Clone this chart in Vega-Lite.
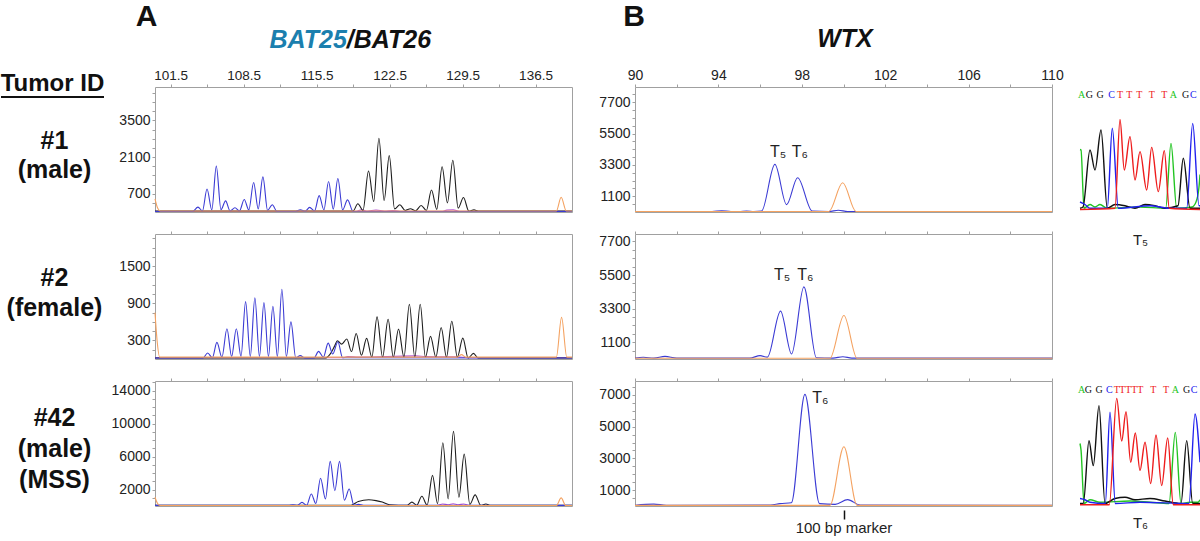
{
"$schema":"https://vega.github.io/schema/vega-lite/v6.json",
"padding":0,
"background":"white",
"config":{
 "font":"Liberation Sans",
 "view":{"stroke":"#a0a0a0","strokeWidth":1},
 "axis":{"grid":false,"domain":false,"tickColor":"#a0a0a0","tickSize":3,"labelFont":"Liberation Sans","labelFontSize":14,"labelColor":"#222","labelPadding":2,"labelFlush":false,"labelOverlap":false},
 "line":{"interpolate":"monotone","strokeWidth":1.1}
},
"datasets":{
 "A1":[
  {"bp":100,"v":30,"d":"purple"},{"bp":119.3,"v":30,"d":"purple"},{"bp":119.8,"v":80,"d":"purple"},{"bp":120.4,"v":40,"d":"purple"},{"bp":121.2,"v":70,"d":"purple"},{"bp":122,"v":40,"d":"purple"},{"bp":122.8,"v":60,"d":"purple"},{"bp":123.5,"v":30,"d":"purple"},{"bp":127.5,"v":30,"d":"purple"},{"bp":128,"v":70,"d":"purple"},{"bp":128.6,"v":80,"d":"purple"},{"bp":129.2,"v":30,"d":"purple"},{"bp":140,"v":30,"d":"purple"},
  {"bp":100,"v":40,"d":"black"},{"bp":119,"v":40,"d":"black"},{"bp":119.46,"v":314,"d":"black"},{"bp":119.95,"v":60,"d":"black"},{"bp":120.48,"v":1568,"d":"black"},{"bp":120.98,"v":400,"d":"black"},{"bp":121.48,"v":2822,"d":"black"},{"bp":121.98,"v":440,"d":"black"},{"bp":122.47,"v":2157,"d":"black"},{"bp":122.98,"v":120,"d":"black"},{"bp":123.49,"v":276,"d":"black"},{"bp":124,"v":60,"d":"black"},{"bp":124.5,"v":125,"d":"black"},{"bp":125,"v":50,"d":"black"},{"bp":125.53,"v":251,"d":"black"},{"bp":126.03,"v":60,"d":"black"},{"bp":126.52,"v":840,"d":"black"},{"bp":127.03,"v":100,"d":"black"},{"bp":127.54,"v":1731,"d":"black"},{"bp":128.05,"v":350,"d":"black"},{"bp":128.57,"v":1981,"d":"black"},{"bp":129.08,"v":150,"d":"black"},{"bp":129.59,"v":552,"d":"black"},{"bp":130.1,"v":40,"d":"black"},{"bp":130.6,"v":80,"d":"black"},{"bp":131,"v":40,"d":"black"},{"bp":140,"v":40,"d":"black"},
  {"bp":100,"v":20,"d":"blue"},{"bp":103.6,"v":20,"d":"blue"},{"bp":104.12,"v":188,"d":"blue"},{"bp":104.55,"v":40,"d":"blue"},{"bp":104.99,"v":878,"d":"blue"},{"bp":105.45,"v":80,"d":"blue"},{"bp":105.88,"v":1756,"d":"blue"},{"bp":106.33,"v":90,"d":"blue"},{"bp":106.77,"v":426,"d":"blue"},{"bp":107.2,"v":40,"d":"blue"},{"bp":107.67,"v":163,"d":"blue"},{"bp":108.1,"v":40,"d":"blue"},{"bp":108.56,"v":476,"d":"blue"},{"bp":109,"v":80,"d":"blue"},{"bp":109.46,"v":1129,"d":"blue"},{"bp":109.9,"v":120,"d":"blue"},{"bp":110.35,"v":1342,"d":"blue"},{"bp":110.8,"v":60,"d":"blue"},{"bp":111.25,"v":276,"d":"blue"},{"bp":111.7,"v":20,"d":"blue"},{"bp":113.5,"v":20,"d":"blue"},{"bp":113.94,"v":88,"d":"blue"},{"bp":114.4,"v":20,"d":"blue"},{"bp":114.83,"v":176,"d":"blue"},{"bp":115.3,"v":40,"d":"blue"},{"bp":115.75,"v":627,"d":"blue"},{"bp":116.2,"v":80,"d":"blue"},{"bp":116.65,"v":1166,"d":"blue"},{"bp":117.1,"v":110,"d":"blue"},{"bp":117.54,"v":1279,"d":"blue"},{"bp":118,"v":80,"d":"blue"},{"bp":118.47,"v":464,"d":"blue"},{"bp":119,"v":20,"d":"blue"},{"bp":140,"v":20,"d":"blue"},
  {"bp":100,"v":500,"d":"orange"},{"bp":100.25,"v":150,"d":"orange"},{"bp":100.5,"v":40,"d":"orange"},{"bp":138.5,"v":40,"d":"orange"},{"bp":138.96,"v":564,"d":"orange"},{"bp":139.45,"v":40,"d":"orange"},{"bp":140,"v":40,"d":"orange"}
 ],
 "A2":[
  {"bp":100,"v":20,"d":"purple"},{"bp":118,"v":20,"d":"purple"},{"bp":118.5,"v":40,"d":"purple"},{"bp":119.5,"v":30,"d":"purple"},{"bp":125,"v":50,"d":"purple"},{"bp":126,"v":40,"d":"purple"},{"bp":129,"v":35,"d":"purple"},{"bp":130,"v":20,"d":"purple"},{"bp":140,"v":20,"d":"purple"},
  {"bp":100,"v":15,"d":"black"},{"bp":116.3,"v":15,"d":"black"},{"bp":116.8,"v":80,"d":"black"},{"bp":117.2,"v":200,"d":"black"},{"bp":117.5,"v":295,"d":"black"},{"bp":117.9,"v":240,"d":"black"},{"bp":118.4,"v":322,"d":"black"},{"bp":118.85,"v":120,"d":"black"},{"bp":119.3,"v":413,"d":"black"},{"bp":119.8,"v":60,"d":"black"},{"bp":120.3,"v":333,"d":"black"},{"bp":120.8,"v":30,"d":"black"},{"bp":121.3,"v":681,"d":"black"},{"bp":121.83,"v":30,"d":"black"},{"bp":122.36,"v":643,"d":"black"},{"bp":122.86,"v":30,"d":"black"},{"bp":123.36,"v":483,"d":"black"},{"bp":123.88,"v":30,"d":"black"},{"bp":124.4,"v":885,"d":"black"},{"bp":124.92,"v":30,"d":"black"},{"bp":125.44,"v":885,"d":"black"},{"bp":125.94,"v":30,"d":"black"},{"bp":126.43,"v":365,"d":"black"},{"bp":126.94,"v":30,"d":"black"},{"bp":127.45,"v":509,"d":"black"},{"bp":127.96,"v":30,"d":"black"},{"bp":128.47,"v":611,"d":"black"},{"bp":129,"v":30,"d":"black"},{"bp":129.53,"v":338,"d":"black"},{"bp":130.04,"v":15,"d":"black"},{"bp":130.55,"v":91,"d":"black"},{"bp":131,"v":15,"d":"black"},{"bp":140,"v":15,"d":"black"},
  {"bp":100,"v":15,"d":"blue"},{"bp":104.6,"v":15,"d":"blue"},{"bp":105.05,"v":96,"d":"blue"},{"bp":105.5,"v":20,"d":"blue"},{"bp":105.94,"v":268,"d":"blue"},{"bp":106.42,"v":30,"d":"blue"},{"bp":106.9,"v":488,"d":"blue"},{"bp":107.35,"v":40,"d":"blue"},{"bp":107.8,"v":488,"d":"blue"},{"bp":108.25,"v":40,"d":"blue"},{"bp":108.69,"v":927,"d":"blue"},{"bp":109.14,"v":40,"d":"blue"},{"bp":109.58,"v":991,"d":"blue"},{"bp":110.02,"v":40,"d":"blue"},{"bp":110.45,"v":911,"d":"blue"},{"bp":110.88,"v":40,"d":"blue"},{"bp":111.31,"v":852,"d":"blue"},{"bp":111.74,"v":40,"d":"blue"},{"bp":112.17,"v":1126,"d":"blue"},{"bp":112.6,"v":40,"d":"blue"},{"bp":113.04,"v":600,"d":"blue"},{"bp":113.5,"v":20,"d":"blue"},{"bp":113.93,"v":54,"d":"blue"},{"bp":114.4,"v":15,"d":"blue"},{"bp":115.25,"v":15,"d":"blue"},{"bp":115.69,"v":123,"d":"blue"},{"bp":116.15,"v":30,"d":"blue"},{"bp":116.61,"v":257,"d":"blue"},{"bp":117.05,"v":80,"d":"blue"},{"bp":117.54,"v":278,"d":"blue"},{"bp":118,"v":20,"d":"blue"},{"bp":140,"v":15,"d":"blue"},
  {"bp":100,"v":750,"d":"orange"},{"bp":100.2,"v":300,"d":"orange"},{"bp":100.45,"v":30,"d":"orange"},{"bp":129,"v":30,"d":"orange"},{"bp":129.4,"v":70,"d":"orange"},{"bp":129.8,"v":30,"d":"orange"},{"bp":138.5,"v":30,"d":"orange"},{"bp":139,"v":672,"d":"orange"},{"bp":139.5,"v":30,"d":"orange"},{"bp":140,"v":30,"d":"orange"}
 ],
 "A3":[
  {"bp":100,"v":60,"d":"purple"},{"bp":127,"v":60,"d":"purple"},{"bp":127.6,"v":250,"d":"purple"},{"bp":128.1,"v":150,"d":"purple"},{"bp":128.6,"v":277,"d":"purple"},{"bp":129.1,"v":150,"d":"purple"},{"bp":129.6,"v":250,"d":"purple"},{"bp":130.2,"v":60,"d":"purple"},{"bp":140,"v":60,"d":"purple"},
  {"bp":100,"v":80,"d":"black"},{"bp":118.8,"v":80,"d":"black"},{"bp":119.5,"v":554,"d":"black"},{"bp":120.5,"v":752,"d":"black"},{"bp":121.2,"v":650,"d":"black"},{"bp":121.8,"v":475,"d":"black"},{"bp":122.5,"v":150,"d":"black"},{"bp":124.2,"v":80,"d":"black"},{"bp":124.64,"v":475,"d":"black"},{"bp":125.1,"v":80,"d":"black"},{"bp":125.6,"v":1188,"d":"black"},{"bp":126.1,"v":100,"d":"black"},{"bp":126.62,"v":3722,"d":"black"},{"bp":127.1,"v":280,"d":"black"},{"bp":127.61,"v":7682,"d":"black"},{"bp":128.12,"v":871,"d":"black"},{"bp":128.63,"v":9068,"d":"black"},{"bp":129.15,"v":1069,"d":"black"},{"bp":129.66,"v":6296,"d":"black"},{"bp":130.2,"v":200,"d":"black"},{"bp":130.71,"v":1346,"d":"black"},{"bp":131.25,"v":80,"d":"black"},{"bp":131.74,"v":238,"d":"black"},{"bp":132.2,"v":80,"d":"black"},{"bp":140,"v":80,"d":"black"},
  {"bp":100,"v":80,"d":"blue"},{"bp":112.8,"v":80,"d":"blue"},{"bp":113.23,"v":158,"d":"blue"},{"bp":113.65,"v":80,"d":"blue"},{"bp":114.1,"v":435,"d":"blue"},{"bp":114.55,"v":90,"d":"blue"},{"bp":114.99,"v":1465,"d":"blue"},{"bp":115.43,"v":300,"d":"blue"},{"bp":115.88,"v":3366,"d":"blue"},{"bp":116.35,"v":870,"d":"blue"},{"bp":116.81,"v":5425,"d":"blue"},{"bp":117.25,"v":1861,"d":"blue"},{"bp":117.7,"v":5425,"d":"blue"},{"bp":118.17,"v":700,"d":"blue"},{"bp":118.63,"v":2059,"d":"blue"},{"bp":119.08,"v":100,"d":"blue"},{"bp":119.53,"v":198,"d":"blue"},{"bp":120,"v":80,"d":"blue"},{"bp":140,"v":80,"d":"blue"},
  {"bp":100,"v":1069,"d":"orange"},{"bp":100.25,"v":300,"d":"orange"},{"bp":100.5,"v":60,"d":"orange"},{"bp":138.5,"v":60,"d":"orange"},{"bp":138.96,"v":990,"d":"orange"},{"bp":139.4,"v":60,"d":"orange"},{"bp":140,"v":60,"d":"orange"}
 ],
 "B1":[
  {"bp":90,"v":40,"d":"blue"},{"bp":93.7,"v":40,"d":"blue"},{"bp":94.16,"v":90,"d":"blue"},{"bp":94.6,"v":40,"d":"blue"},{"bp":95,"v":40,"d":"blue"},{"bp":95.35,"v":70,"d":"blue"},{"bp":95.7,"v":40,"d":"blue"},{"bp":96.07,"v":60,"d":"blue"},{"bp":96.71,"v":3344,"d":"blue"},{"bp":97.27,"v":516,"d":"blue"},{"bp":97.8,"v":2404,"d":"blue"},{"bp":98.5,"v":60,"d":"blue"},{"bp":99.3,"v":40,"d":"blue"},{"bp":99.75,"v":120,"d":"blue"},{"bp":100.2,"v":40,"d":"blue"},{"bp":110,"v":40,"d":"blue"},
  {"bp":90,"v":40,"d":"orange"},{"bp":99.3,"v":40,"d":"orange"},{"bp":99.96,"v":2050,"d":"orange"},{"bp":100.6,"v":40,"d":"orange"},{"bp":110,"v":40,"d":"orange"}
 ],
 "B2":[
  {"bp":90,"v":60,"d":"blue"},{"bp":90.4,"v":110,"d":"blue"},{"bp":90.9,"v":60,"d":"blue"},{"bp":91.44,"v":170,"d":"blue"},{"bp":92,"v":60,"d":"blue"},{"bp":95.5,"v":60,"d":"blue"},{"bp":96,"v":220,"d":"blue"},{"bp":96.35,"v":120,"d":"blue"},{"bp":96.98,"v":3136,"d":"blue"},{"bp":97.51,"v":330,"d":"blue"},{"bp":98.1,"v":4727,"d":"blue"},{"bp":98.7,"v":80,"d":"blue"},{"bp":99.5,"v":60,"d":"blue"},{"bp":99.97,"v":150,"d":"blue"},{"bp":100.4,"v":60,"d":"blue"},{"bp":110,"v":60,"d":"blue"},
  {"bp":90,"v":50,"d":"orange"},{"bp":99.35,"v":50,"d":"orange"},{"bp":100.02,"v":2851,"d":"orange"},{"bp":100.65,"v":50,"d":"orange"},{"bp":110,"v":50,"d":"orange"}
 ],
 "B3":[
  {"bp":90,"v":50,"d":"blue"},{"bp":90.9,"v":120,"d":"blue"},{"bp":91.5,"v":50,"d":"blue"},{"bp":96.5,"v":60,"d":"blue"},{"bp":96.95,"v":150,"d":"blue"},{"bp":97.5,"v":200,"d":"blue"},{"bp":98.15,"v":7035,"d":"blue"},{"bp":98.85,"v":150,"d":"blue"},{"bp":99.6,"v":100,"d":"blue"},{"bp":100.2,"v":400,"d":"blue"},{"bp":100.8,"v":60,"d":"blue"},{"bp":110,"v":50,"d":"blue"},
  {"bp":90,"v":40,"d":"orange"},{"bp":99.35,"v":40,"d":"orange"},{"bp":100.02,"v":3735,"d":"orange"},{"bp":100.65,"v":40,"d":"orange"},{"bp":110,"v":40,"d":"orange"}
 ],
 "B1T":[{"bp":96.86,"v":4190,"lab":"T₅"},{"bp":97.91,"v":4190,"lab":"T₆"}],
 "B2T":[{"bp":97.05,"v":5500,"lab":"T₅"},{"bp":98.17,"v":5500,"lab":"T₆"}],
 "B3T":[{"bp":98.89,"v":6780,"lab":"T₆"}],
 "C1":[
  {"u":0,"s":50,"b":"A"},{"u":1,"s":49.6,"b":"A"},{"u":4,"s":3,"b":"A"},{"u":10,"s":6,"b":"A"},{"u":15,"s":4,"b":"A"},{"u":20,"s":6,"b":"A"},{"u":27,"s":3,"b":"A"},{"u":60,"s":4,"b":"A"},{"u":85.7,"s":3,"b":"A"},{"u":91,"s":54.9,"b":"A"},{"u":96.7,"s":3,"b":"A"},{"u":112,"s":4,"b":"A"},{"u":116,"s":8,"b":"A"},{"u":119,"s":20,"b":"A"},{"u":120,"s":30,"b":"A"},
  {"u":0,"s":3,"b":"G"},{"u":3,"s":4,"b":"G"},{"u":10,"s":49.6,"b":"G"},{"u":15,"s":33.6,"b":"G"},{"u":21,"s":65.6,"b":"G"},{"u":27.3,"s":3,"b":"G"},{"u":35,"s":6,"b":"G"},{"u":45,"s":5,"b":"G"},{"u":55,"s":3,"b":"G"},{"u":65,"s":6,"b":"G"},{"u":75,"s":5,"b":"G"},{"u":85,"s":3,"b":"G"},{"u":98,"s":5,"b":"G"},{"u":103.3,"s":43,"b":"G"},{"u":110,"s":3,"b":"G"},{"u":120,"s":3,"b":"G"},
  {"u":0,"s":8,"b":"C"},{"u":5,"s":6,"b":"C"},{"u":10,"s":3,"b":"C"},{"u":27.3,"s":3,"b":"C"},{"u":32.3,"s":67,"b":"C"},{"u":38.3,"s":3,"b":"C"},{"u":70,"s":5,"b":"C"},{"u":90,"s":3,"b":"C"},{"u":106.7,"s":3,"b":"C"},{"u":112.7,"s":70.9,"b":"C"},{"u":119,"s":5,"b":"C"},{"u":120,"s":5,"b":"C"},
  {"u":0,"s":2,"b":"T"},{"u":35,"s":3,"b":"T"},{"u":40,"s":74.1,"b":"T"},{"u":44.3,"s":33.6,"b":"T"},{"u":50,"s":60.3,"b":"T"},{"u":55,"s":25.6,"b":"T"},{"u":60,"s":48.3,"b":"T"},{"u":66.7,"s":17.6,"b":"T"},{"u":71.7,"s":51.7,"b":"T"},{"u":78.3,"s":16.3,"b":"T"},{"u":84.3,"s":49.1,"b":"T"},{"u":89.3,"s":3,"b":"T"},{"u":120,"s":2,"b":"T"}
 ],
 "C1L":[{"u":1.7,"b":"A"},{"u":9.3,"b":"G"},{"u":20,"b":"G"},{"u":31.7,"b":"C"},{"u":40,"b":"T"},{"u":49.3,"b":"T"},{"u":59.3,"b":"T"},{"u":71.7,"b":"T"},{"u":84.3,"b":"T"},{"u":93.3,"b":"A"},{"u":105.7,"b":"G"},{"u":113.3,"b":"C"}],
 "C3":[
  {"u":0,"s":50,"b":"A"},{"u":1,"s":45,"b":"A"},{"u":4,"s":2,"b":"A"},{"u":10,"s":5,"b":"A"},{"u":20,"s":3,"b":"A"},{"u":50,"s":4,"b":"A"},{"u":70,"s":3,"b":"A"},{"u":89,"s":2,"b":"A"},{"u":95.3,"s":58.9,"b":"A"},{"u":101,"s":2,"b":"A"},{"u":110,"s":3,"b":"A"},{"u":118,"s":3,"b":"A"},{"u":120,"s":5,"b":"A"},
  {"u":0,"s":2,"b":"G"},{"u":3.3,"s":2,"b":"G"},{"u":9,"s":52.3,"b":"G"},{"u":13.3,"s":32.3,"b":"G"},{"u":19,"s":80.3,"b":"G"},{"u":25,"s":2,"b":"G"},{"u":35,"s":6,"b":"G"},{"u":45,"s":7,"b":"G"},{"u":55,"s":5,"b":"G"},{"u":70,"s":6,"b":"G"},{"u":85,"s":4,"b":"G"},{"u":101,"s":2,"b":"G"},{"u":106.7,"s":52.3,"b":"G"},{"u":112.7,"s":2,"b":"G"},{"u":120,"s":2,"b":"G"},
  {"u":0,"s":6,"b":"C"},{"u":5,"s":5,"b":"C"},{"u":10,"s":3,"b":"C"},{"u":25.3,"s":2,"b":"C"},{"u":30,"s":75,"b":"C"},{"u":35.3,"s":2,"b":"C"},{"u":60,"s":3,"b":"C"},{"u":109,"s":2,"b":"C"},{"u":115,"s":73.6,"b":"C"},{"u":120,"s":35,"b":"C"},
  {"u":0,"s":1,"b":"T"},{"u":29.3,"s":1,"b":"T"},{"u":36.7,"s":86.1,"b":"T"},{"u":41.7,"s":52,"b":"T"},{"u":46,"s":75.5,"b":"T"},{"u":50.7,"s":35,"b":"T"},{"u":55.3,"s":58.4,"b":"T"},{"u":60,"s":28.4,"b":"T"},{"u":65,"s":51,"b":"T"},{"u":70.7,"s":18,"b":"T"},{"u":76,"s":56.8,"b":"T"},{"u":81.7,"s":16.3,"b":"T"},{"u":87.7,"s":54.4,"b":"T"},{"u":93.3,"s":1,"b":"T"},{"u":120,"s":1,"b":"T"}
 ],
 "C3L":[{"u":1.7,"b":"A"},{"u":8.3,"b":"G"},{"u":19,"b":"G"},{"u":29.3,"b":"C"},{"u":36.7,"b":"T"},{"u":42.3,"b":"T"},{"u":48.3,"b":"T"},{"u":54.3,"b":"T"},{"u":60.3,"b":"T"},{"u":73.3,"b":"T"},{"u":86,"b":"T"},{"u":95.3,"b":"A"},{"u":106.7,"b":"G"},{"u":114,"b":"C"}]
},
"columns":5,
"align":"each",
"bounds":"flush",
"spacing":{"row":22,"column":28},
"concat":[
 {"width":127,"height":65,"view":{"stroke":null},"data":{"values":[{}]},"layer":[
  {"mark":{"type":"text","fontSize":24,"fontWeight":"bold","color":"#111","dx":-11,"dy":51},"encoding":{"text":{"value":"Tumor ID"}}},
  {"mark":{"type":"rule","color":"#111","strokeWidth":2},"encoding":{"x":{"datum":1,"type":"quantitative","scale":{"domain":[0,127],"nice":false,"zero":false},"axis":null},"x2":{"datum":104},"y":{"datum":97,"type":"quantitative","scale":{"domain":[65,0],"nice":false,"zero":false},"axis":null}}}
 ]},
 {"width":417,"height":65,"view":{"stroke":null},"data":{"values":[{}]},"layer":[
  {"mark":{"type":"text","fontSize":30,"fontWeight":"bold","color":"#111","dy":-16},"encoding":{"x":{"datum":99.2,"type":"quantitative","scale":{"domain":[100,140],"nice":false,"zero":false},"axis":null},"text":{"value":"A"}}},
  {"mark":{"type":"text","fontSize":25,"fontWeight":"bold","fontStyle":"italic","color":"#1b7fae","align":"right","dy":7.5},"encoding":{"x":{"datum":118.4,"type":"quantitative","axis":null},"text":{"value":"BAT25"}}},
  {"mark":{"type":"text","fontSize":25,"fontWeight":"bold","fontStyle":"italic","color":"#111","align":"left","dy":7.5},"encoding":{"x":{"datum":118.4,"type":"quantitative","axis":null},"text":{"value":"/BAT26"}}}
 ]},
 {"width":7,"height":65,"view":{"stroke":null},"data":{"values":[]},"mark":"point"},
 {"width":417,"height":65,"view":{"stroke":null},"data":{"values":[{}]},"layer":[
  {"mark":{"type":"text","fontSize":30,"fontWeight":"bold","color":"#111","dy":-16},"encoding":{"x":{"datum":89.95,"type":"quantitative","scale":{"domain":[90,110],"nice":false,"zero":false},"axis":null},"text":{"value":"B"}}},
  {"mark":{"type":"text","fontSize":25,"fontWeight":"bold","fontStyle":"italic","color":"#111","dy":6.5},"encoding":{"x":{"datum":100.07,"type":"quantitative","axis":null},"text":{"value":"WTX"}}}
 ]},
 {"width":120,"height":65,"view":{"stroke":null},"data":{"values":[]},"mark":"point"},

 {"width":127,"height":125,"view":{"stroke":null},"data":{"values":[{"t":"#1\n(male)"}]},"mark":{"type":"text","lineBreak":"\n","fontSize":25,"fontWeight":"bold","lineHeight":29,"color":"#111","dx":-9,"dy":-9},"encoding":{"text":{"field":"t","type":"nominal"}}},
 {"width":417,"height":125,"data":{"name":"A1"},"mark":{"type":"line"},"encoding":{
  "x":{"field":"bp","type":"quantitative","title":null,"scale":{"domain":[100,140],"nice":false,"zero":false},"axis":{"orient":"top","format":".1f","labelFontSize":13.5,"values":[101.5,105,108.5,112,115.5,119,122.5,126,129.5,133,136.5],"labelExpr":"(datum.value-101.5)%7==0 ? datum.label : ''"}},
  "y":{"field":"v","type":"quantitative","title":null,"scale":{"domain":[0,4780],"nice":false},"axis":{"format":"d","values":[350,700,1050,1400,1750,2100,2450,2800,3150,3500,3850,4200,4550],"labelExpr":"datum.value%1400==700 ? datum.label : ''"}},
  "color":{"field":"d","type":"nominal","legend":null,"scale":{"domain":["purple","black","blue","orange","A","C","G","T"],"range":["#b455d0","#1e1e1e","#3b3bd4","#f4a261","#22c422","#2020ee","#111111","#ee1c1c"]}}}},
 {"width":7,"height":125,"view":{"stroke":null},"data":{"values":[]},"mark":"point"},
 {"width":417,"height":125,"resolve":{"axis":{"x":"independent","y":"independent"}},"layer":[
  {"data":{"name":"B1"},"mark":{"type":"line"},"encoding":{
   "x":{"field":"bp","type":"quantitative","title":null,"scale":{"domain":[90,110],"nice":false,"zero":false},"axis":{"orient":"top","format":"d","values":[90,92,94,96,98,100,102,104,106,108,110],"labelExpr":"(datum.value-90)%4==0 ? datum.label : ''"}},
   "y":{"field":"v","type":"quantitative","title":null,"scale":{"domain":[0,8770],"nice":false},"axis":{"format":"d","values":[550,1100,1650,2200,2750,3300,3850,4400,4950,5500,6050,6600,7150,7700,8250],"labelExpr":"datum.value%2200==1100 ? datum.label : ''"}},
   "color":{"field":"d","type":"nominal","legend":null,"scale":{"domain":["purple","black","blue","orange","A","C","G","T"],"range":["#b455d0","#1e1e1e","#3b3bd4","#f4a261","#22c422","#2020ee","#111111","#ee1c1c"]}}}},
  {"data":{"name":"B1T"},"mark":{"type":"text","fontSize":16,"color":"#222"},"encoding":{"x":{"field":"bp","type":"quantitative","axis":null},"y":{"field":"v","type":"quantitative","axis":null},"text":{"field":"lab","type":"nominal"}}}
 ]},
 {"width":120,"height":125,"view":{"stroke":null},"layer":[
  {"data":{"name":"C1"},"mark":{"type":"line","strokeWidth":1.4},"encoding":{
   "x":{"field":"u","type":"quantitative","scale":{"domain":[0,120],"nice":false,"zero":false},"axis":{"orient":"bottom","domain":false,"ticks":false,"labels":false,"title":"T₅","titleFont":"Liberation Sans","titleFontSize":15,"titleFontWeight":"normal","titleColor":"#222","titlePadding":20}},
   "y":{"field":"s","type":"quantitative","scale":{"domain":[0,100],"nice":false},"axis":null},
   "color":{"field":"b","type":"nominal","legend":null,"scale":{"domain":["purple","black","blue","orange","A","C","G","T"],"range":["#b455d0","#1e1e1e","#3b3bd4","#f4a261","#22c422","#2020ee","#111111","#ee1c1c"]}}}},
  {"data":{"name":"C1L"},"mark":{"type":"text","font":"Liberation Serif","fontSize":10},"encoding":{"x":{"field":"u","type":"quantitative"},"y":{"datum":93.6},"text":{"field":"b","type":"nominal"},"color":{"field":"b","type":"nominal"}}}
 ]},

 {"width":127,"height":125,"view":{"stroke":null},"data":{"values":[{"t":"#2\n(female)"}]},"mark":{"type":"text","lineBreak":"\n","fontSize":25,"fontWeight":"bold","lineHeight":30,"color":"#111","dx":-9,"dy":-19},"encoding":{"text":{"field":"t","type":"nominal"}}},
 {"width":417,"height":125,"data":{"name":"A2"},"mark":{"type":"line"},"encoding":{
  "x":{"field":"bp","type":"quantitative","title":null,"scale":{"domain":[100,140],"nice":false,"zero":false},"axis":{"orient":"top","labels":false,"values":[101.5,105,108.5,112,115.5,119,122.5,126,129.5,133,136.5]}},
  "y":{"field":"v","type":"quantitative","title":null,"scale":{"domain":[0,2020],"nice":false},"axis":{"format":"d","values":[150,300,450,600,750,900,1050,1200,1350,1500,1650,1800,1950],"labelExpr":"datum.value%600==300 ? datum.label : ''"}},
  "color":{"field":"d","type":"nominal","legend":null,"scale":{"domain":["purple","black","blue","orange","A","C","G","T"],"range":["#b455d0","#1e1e1e","#3b3bd4","#f4a261","#22c422","#2020ee","#111111","#ee1c1c"]}}}},
 {"width":7,"height":125,"view":{"stroke":null},"data":{"values":[]},"mark":"point"},
 {"width":417,"height":125,"resolve":{"axis":{"x":"independent","y":"independent"}},"layer":[
  {"data":{"name":"B2"},"mark":{"type":"line"},"encoding":{
   "x":{"field":"bp","type":"quantitative","title":null,"scale":{"domain":[90,110],"nice":false,"zero":false},"axis":{"orient":"top","labels":false,"values":[90,92,94,96,98,100,102,104,106,108,110]}},
   "y":{"field":"v","type":"quantitative","title":null,"scale":{"domain":[0,8190],"nice":false},"axis":{"format":"d","values":[550,1100,1650,2200,2750,3300,3850,4400,4950,5500,6050,6600,7150,7700],"labelExpr":"datum.value%2200==1100 ? datum.label : ''"}},
   "color":{"field":"d","type":"nominal","legend":null,"scale":{"domain":["purple","black","blue","orange","A","C","G","T"],"range":["#b455d0","#1e1e1e","#3b3bd4","#f4a261","#22c422","#2020ee","#111111","#ee1c1c"]}}}},
  {"data":{"name":"B2T"},"mark":{"type":"text","fontSize":16,"color":"#222"},"encoding":{"x":{"field":"bp","type":"quantitative","axis":null},"y":{"field":"v","type":"quantitative","axis":null},"text":{"field":"lab","type":"nominal"}}}
 ]},
 {"width":120,"height":125,"view":{"stroke":null},"data":{"values":[]},"mark":"point"},

 {"width":127,"height":125,"view":{"stroke":null},"data":{"values":[{"t":"#42\n(male)\n(MSS)"}]},"mark":{"type":"text","lineBreak":"\n","fontSize":25,"fontWeight":"bold","lineHeight":31,"color":"#111","dx":-9,"dy":-26},"encoding":{"text":{"field":"t","type":"nominal"}}},
 {"width":417,"height":125,"data":{"name":"A3"},"mark":{"type":"line"},"encoding":{
  "x":{"field":"bp","type":"quantitative","title":null,"scale":{"domain":[100,140],"nice":false,"zero":false},"axis":{"orient":"top","labels":false,"values":[101.5,105,108.5,112,115.5,119,122.5,126,129.5,133,136.5]}},
  "y":{"field":"v","type":"quantitative","title":null,"scale":{"domain":[0,15180],"nice":false},"axis":{"format":"d","values":[1000,2000,3000,4000,5000,6000,7000,8000,9000,10000,11000,12000,13000,14000,15000],"labelExpr":"datum.value%4000==2000 ? datum.label : ''"}},
  "color":{"field":"d","type":"nominal","legend":null,"scale":{"domain":["purple","black","blue","orange","A","C","G","T"],"range":["#b455d0","#1e1e1e","#3b3bd4","#f4a261","#22c422","#2020ee","#111111","#ee1c1c"]}}}},
 {"width":7,"height":125,"view":{"stroke":null},"data":{"values":[]},"mark":"point"},
 {"width":417,"height":125,"resolve":{"axis":{"x":"independent","y":"independent"}},"layer":[
  {"data":{"name":"B3"},"mark":{"type":"line"},"encoding":{
   "x":{"field":"bp","type":"quantitative","title":null,"scale":{"domain":[90,110],"nice":false,"zero":false},"axis":{"orient":"top","labels":false,"values":[90,92,94,96,98,100,102,104,106,108,110]}},
   "y":{"field":"v","type":"quantitative","title":null,"scale":{"domain":[0,7875],"nice":false},"axis":{"format":"d","values":[500,1000,1500,2000,2500,3000,3500,4000,4500,5000,5500,6000,6500,7000,7500],"labelExpr":"datum.value%2000==1000 ? datum.label : ''"}},
   "color":{"field":"d","type":"nominal","legend":null,"scale":{"domain":["purple","black","blue","orange","A","C","G","T"],"range":["#b455d0","#1e1e1e","#3b3bd4","#f4a261","#22c422","#2020ee","#111111","#ee1c1c"]}}}},
  {"data":{"name":"B3T"},"mark":{"type":"text","fontSize":16,"color":"#222"},"encoding":{"x":{"field":"bp","type":"quantitative","title":null,"axis":{"orient":"bottom","values":[100],"labelExpr":"'100 bp marker'","offset":4,"tickSize":9,"tickColor":"#111","tickWidth":1.5,"labelFontSize":15,"labelPadding":1}},"y":{"field":"v","type":"quantitative","axis":null},"text":{"field":"lab","type":"nominal"}}}
 ]},
 {"width":120,"height":125,"view":{"stroke":null},"layer":[
  {"data":{"name":"C3"},"mark":{"type":"line","strokeWidth":1.4},"encoding":{
   "x":{"field":"u","type":"quantitative","scale":{"domain":[0,120],"nice":false,"zero":false},"axis":{"orient":"bottom","domain":false,"ticks":false,"labels":false,"title":"T₆","titleFont":"Liberation Sans","titleFontSize":15,"titleFontWeight":"normal","titleColor":"#222","titlePadding":9}},
   "y":{"field":"s","type":"quantitative","scale":{"domain":[0,100],"nice":false},"axis":null},
   "color":{"field":"b","type":"nominal","legend":null,"scale":{"domain":["purple","black","blue","orange","A","C","G","T"],"range":["#b455d0","#1e1e1e","#3b3bd4","#f4a261","#22c422","#2020ee","#111111","#ee1c1c"]}}}},
  {"data":{"name":"C3L"},"mark":{"type":"text","font":"Liberation Serif","fontSize":10},"encoding":{"x":{"field":"u","type":"quantitative"},"y":{"datum":92.8},"text":{"field":"b","type":"nominal"},"color":{"field":"b","type":"nominal"}}}
 ]}
]
}
